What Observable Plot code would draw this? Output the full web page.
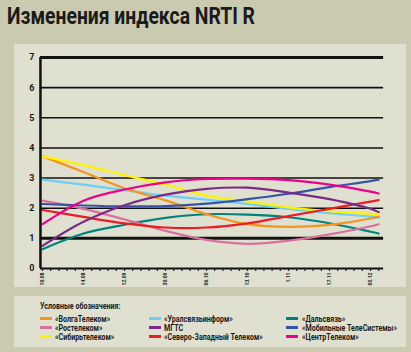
<!DOCTYPE html>
<html>
<head>
<meta charset="utf-8">
<script src="https://cdn.jsdelivr.net/npm/d3@7"></script>
<script src="https://cdn.jsdelivr.net/npm/@observablehq/plot@0.6"></script>
<style>
  html, body { margin: 0; padding: 0; }
  body { width: 411px; height: 352px; background: #c9cab0; position: relative; overflow: hidden;
         font-family: Roboto, "DejaVu Sans", sans-serif; }
  #title { position: absolute; left: 7px; top: 3px; font-size: 23px; font-weight: bold; color: #1b1b1b;
           white-space: nowrap; transform-origin: 0 0; }
  #panel { position: absolute; left: 14px; top: 44px; width: 392px; height: 243px; background: #dfe0d0; }
  #legendPanel { position: absolute; left: 14px; top: 296px; width: 392px; height: 51px; background: #dfe0d0; }
  #chart { position: absolute; left: 0; top: 0; }
  .lg { position: absolute; font-size: 9px; font-weight: bold; color: #1b1b1b; white-space: nowrap; line-height: 8px;
        height: 8px; transform-origin: 0 50%; }
  .sw { position: absolute; width: 12px; height: 3px; }
</style>
</head>
<body>
<div id="title">Изменения индекса NRTI R</div>
<div id="panel"></div>
<div id="legendPanel"></div>
<div id="chart"></div>
<div id="legend"></div>
<script>
// x positions (index of date label; last point = end of lines)
const xIdx = [0, 1, 2, 3, 4, 5, 6, 7, 8, 8.2];
const dateLabels = ["10.08", "14.08", "12.09", "30.09", "06.10", "13.10", "1.11", "17.11", "05.12"];
const yTicks = [0, 1, 2, 3, 4, 5, 6, 7];

const names = ["«ВолгаТелеком»", "«Ростелеком»", "«Сибирьтелеком»", "«Уралсвязьинформ»", "МГТС",
  "«Северо-Западный Телеком»", "«Дальсвязь»", "«Мобильные ТелеСистемы»", "«ЦентрТелеком»"];
const colors = ["#f7941d", "#d9709e", "#fff200", "#6dcff6", "#7b2a85", "#ed1c24", "#00827f", "#3953a4", "#ec008c"];

const volga   = [3.72, 3.20, 2.66, 2.26, 1.80, 1.47, 1.38, 1.45, 1.66, 1.73];
const rostel  = [2.25, 1.98, 1.63, 1.25, 0.95, 0.82, 0.92, 1.13, 1.40, 1.47];
const sibir   = [3.72, 3.43, 3.10, 2.78, 2.42, 2.22, 2.03, 1.90, 1.81, 1.79];
const ural    = [2.95, 2.78, 2.60, 2.42, 2.28, 2.14, 1.98, 1.84, 1.72, 1.68];
const mgts    = [0.75, 1.55, 2.10, 2.45, 2.64, 2.68, 2.52, 2.30, 1.98, 1.87];
const szt     = [1.94, 1.71, 1.50, 1.36, 1.36, 1.50, 1.74, 1.98, 2.22, 2.27];
const dals    = [0.64, 1.16, 1.45, 1.68, 1.80, 1.79, 1.70, 1.50, 1.22, 1.16];
const mts     = [2.14, 2.09, 2.06, 2.07, 2.15, 2.30, 2.48, 2.70, 2.90, 2.95];
const centr   = [1.47, 2.25, 2.62, 2.86, 2.97, 2.98, 2.93, 2.78, 2.55, 2.49];

const seriesVals = [volga, rostel, sibir, ural, mgts, szt, dals, mts, centr];
// draw order (back to front) roughly as in the picture
const drawOrder = [6, 1, 3, 0, 2, 5, 7, 4, 8];

const rows = [];
drawOrder.forEach(si => {
  seriesVals[si].forEach((v, i) => rows.push({ s: names[si], x: xIdx[i], y: v, o: si }));
});

const font = "Roboto, 'DejaVu Sans', sans-serif";

const plot = Plot.plot({
  width: 411,
  height: 290,
  marginLeft: 42,
  marginRight: 41,
  marginTop: 57,
  marginBottom: 22,
  x: { domain: [0, 8] },
  y: { domain: [0, 7] },
  color: { domain: names, range: colors },
  style: { background: "transparent", overflow: "visible", fontFamily: font, color: "#1b1b1b" },
  marks: [
    Plot.ruleY(yTicks.filter(d => d !== 0 && d !== 1 && d !== 7), { x1: -0.05, x2: 8.32, stroke: "#111", strokeWidth: 1.6 }),
    Plot.ruleY(yTicks.filter(d => d === 1 || d === 7), { x1: -0.05, x2: 8.32, stroke: "#111", strokeWidth: 3 }),
    ...drawOrder.map(si => Plot.line(rows.filter(r => r.o === si), {
      x: "x", y: "y", stroke: "s", strokeWidth: 2.2, curve: "catmull-rom"
    })),
    Plot.ruleY([0], { x1: -0.05, x2: 8.32, stroke: "#111", strokeWidth: 2 }),
    Plot.ruleX([-0.05], { y1: 0, y2: 7, stroke: "#111", strokeWidth: 2.5 }),
    Plot.axisY({ ticks: yTicks, tickSize: 0, tickPadding: 8, fontSize: 9, fontWeight: "bold", label: null,
      tickFormat: d3.format("d") }),
    Plot.axisX({ ticks: d3.range(0, 8.3, 0.2), tickSize: 3, tickFormat: () => "", label: null, strokeWidth: 1.2 }),
    Plot.axisX({ ticks: d3.range(0, 9), tickSize: 0, tickPadding: 4, tickRotate: -90, fontSize: 5, fontWeight: "bold",
      tickFormat: i => dateLabels[i], label: null })
  ]
});
document.getElementById("chart").appendChild(plot);

// condense title to reference width
const title = document.getElementById("title");
title.style.transform = `scaleX(${248 / title.getBoundingClientRect().width})`;

// legend
const legend = document.getElementById("legend");
function addText(txt, x, yc) {
  const t = document.createElement("div");
  t.className = "lg";
  t.style.left = x + "px"; t.style.top = (yc - 4) + "px";
  t.textContent = txt;
  legend.appendChild(t);
  return t;
}
const head = addText("Условные обозначения:", 40, 306);
const colX = [[40, 55], [149, 164], [286, 302]];
const rowY = [318.5, 327.5, 336.5];
const texts = [head];
names.forEach((n, i) => {
  const c = Math.floor(i / 3), r = i % 3;
  const sw = document.createElement("div");
  sw.className = "sw";
  sw.style.left = colX[c][0] + "px"; sw.style.top = (rowY[r] - 1.5) + "px";
  sw.style.background = colors[i];
  legend.appendChild(sw);
  texts.push(addText(n, colX[c][1], rowY[r]));
});
// condense legend text: «Мобильные ТелеСистемы» spans ~95px in the reference
const ref = texts[1 + 7].getBoundingClientRect().width;
const k = 95 / ref;
texts.forEach(t => t.style.transform = `scaleX(${k})`);
</script>
</body>
</html>
